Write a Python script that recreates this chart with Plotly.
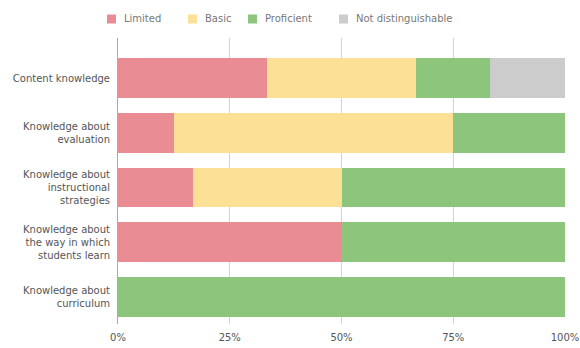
import plotly.graph_objects as go

categories = [
    "Content knowledge",
    "Knowledge about<br>evaluation",
    "Knowledge about<br>instructional<br>strategies",
    "Knowledge about<br>the way in which<br>students learn",
    "Knowledge about<br>curriculum",
]
series_names = ["Limited", "Basic", "Proficient", "Not distinguishable"]
limited = [33.3, 12.5, 16.7, 50.0, 0.0]
basic = [33.3, 62.5, 33.3, 0.0, 0.0]
proficient = [16.7, 25.0, 50.0, 50.0, 100.0]
not_distinguishable = [16.7, 0.0, 0.0, 0.0, 0.0]
tick_values = [0, 25, 50, 75, 100]
tick_labels = ["0%", "25%", "50%", "75%", "100%"]

colors = ["#E98C93", "#FCE096", "#8DC57D", "#CCCCCC"]
values = [limited, basic, proficient, not_distinguishable]

W, H = 580, 348
ML, MR, MT, MB = 118, 15, 38, 24
PW, PH = W - ML - MR, H - MT - MB
FONT = "DejaVu Sans, Verdana, sans-serif"


def px_x(px):
    return (px - ML) / PW


def px_y(py):
    return (H - MB - py) / PH


fig = go.Figure()
for name, vals, col in zip(series_names, values, colors):
    fig.add_trace(go.Bar(
        y=categories, x=vals, name=name, orientation="h",
        marker=dict(color=col, line=dict(width=0)),
        hovertemplate="%{y}: %{x}%<extra>" + name + "</extra>",
        showlegend=False,
    ))

# legend row above the plot: small swatch then label
legend_swatch_left = [107, 188, 248, 339]
legend_y = 19
for name, col, sx in zip(series_names, colors, legend_swatch_left):
    fig.add_shape(
        type="rect", xref="paper", yref="paper",
        x0=px_x(sx), x1=px_x(sx + 9), y0=px_y(legend_y + 4.5), y1=px_y(legend_y - 4.5),
        fillcolor=col, line=dict(width=0),
    )
    fig.add_annotation(
        xref="paper", yref="paper", x=px_x(sx + 15), y=px_y(legend_y),
        text=name, showarrow=False, xanchor="left", yanchor="middle",
        font=dict(family=FONT, size=10, color="#777777"),
    )

fig.update_layout(
    barmode="stack",
    bargap=0.27,
    width=W, height=H,
    margin=dict(l=ML, r=MR, t=MT, b=MB, autoexpand=False),
    paper_bgcolor="white", plot_bgcolor="white",
    font=dict(family=FONT, size=10, color="#555555"),
    showlegend=False,
    xaxis=dict(
        range=[0, 100], tickvals=tick_values, ticktext=tick_labels,
        showgrid=True, gridcolor="#D4D4D4", gridwidth=1,
        zeroline=False, showline=False, ticks="", automargin=False,
        ticklabelstandoff=6,
        tickfont=dict(family=FONT, size=10, color="#555555"),
    ),
    yaxis=dict(
        categoryorder="array", categoryarray=categories,
        autorange=False, range=[4.5, -0.74],
        showline=True, linecolor="#AAAAAA", linewidth=1,
        ticks="", showgrid=False, automargin=False,
        ticklabelstandoff=5,
        tickfont=dict(family=FONT, size=10, color="#555555"),
    ),
)

fig.write_html("out.html")
